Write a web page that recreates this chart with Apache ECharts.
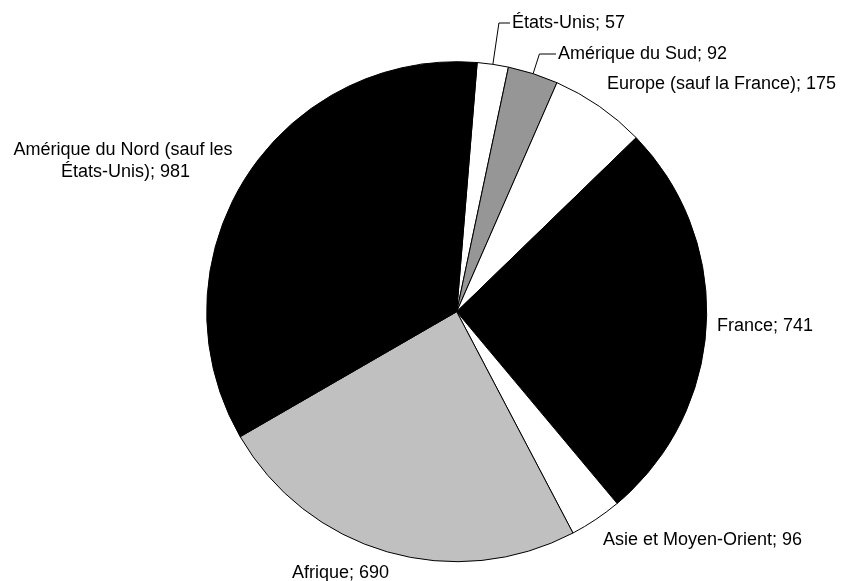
<!DOCTYPE html>
<html><head><meta charset="utf-8">
<script src="https://cdn.jsdelivr.net/npm/echarts@6/dist/echarts.min.js"></script>
<style>html,body{margin:0;padding:0;background:#fff}#c{width:844px;height:581px}</style>
</head><body><div id="c"></div>
<script>
const categories = ['États-Unis', 'Amérique du Sud', 'Europe (sauf la France)', 'France', 'Asie et Moyen-Orient', 'Afrique', 'Amérique du Nord (sauf les États-Unis)'];
const values = [57, 92, 175, 741, 96, 690, 981];
const colors = ['#ffffff', '#969696', '#ffffff', '#000000', '#ffffff', '#c0c0c0', '#000000'];
const withLine = [true, true, false, false, false, false, false];
// label anchor positions (layout only)
const labelPos = [[512, 23, 'left'], [558, 54, 'left'], [607, 84, 'left'], [717, 326, 'left'], [603, 540, 'left'], [292, 573, 'left'], [123, 161, 'center']];

const chart = echarts.init(document.getElementById('c'), null, {renderer: 'canvas'});
const data = categories.map((n, i) => {
  const d = {name: n, value: values[i], itemStyle: {color: colors[i]}, labelLine: {show: withLine[i]}};
  if (i === 6) d.label = {width: 232, overflow: 'break', align: 'center', lineHeight: 22};
  return d;
});
chart.setOption({
  animation: false,
  backgroundColor: '#fff',
  series: [{
    type: 'pie',
    center: [456.7, 311.7],
    radius: 250,
    startAngle: 85.3,
    clockwise: true,
    avoidLabelOverlap: false,
    silent: true,
    itemStyle: {borderColor: '#000', borderWidth: 1},
    label: {show: true, position: 'outside', formatter: '{b}; {c}', fontFamily: 'Liberation Sans, Arial, sans-serif', fontSize: 18, color: '#000'},
    labelLine: {show: false, length: 12, length2: 10, smooth: false, lineStyle: {color: '#000', width: 1}},
    emphasis: {disabled: true},
    labelLayout: function (p) {
      const pos = labelPos[p.dataIndex];
      const res = {x: pos[0], y: pos[1], align: pos[2], verticalAlign: 'middle'};
      if (withLine[p.dataIndex] && p.labelLinePoints) {
        const a = p.labelLinePoints[0], b = p.labelLinePoints[1];
        const t = (pos[1] - a[1]) / (b[1] - a[1]);
        const mid = [a[0] + (b[0] - a[0]) * t, pos[1]];
        res.labelLinePoints = [a, mid, [pos[0] - 2, pos[1]]];
      }
      return res;
    },
    data: data
  }]
});
</script></body></html>
